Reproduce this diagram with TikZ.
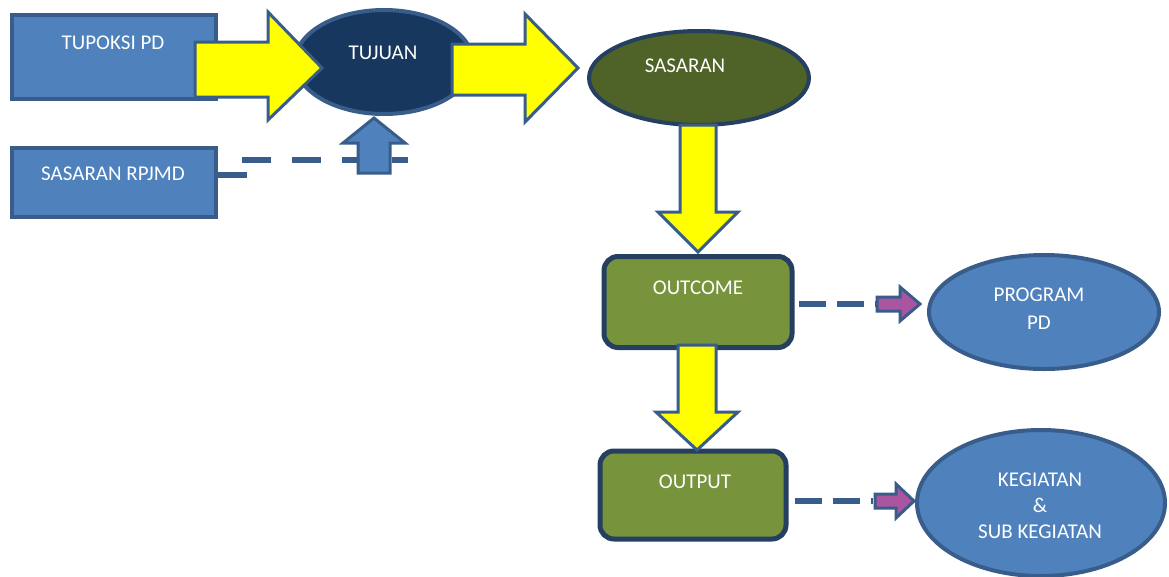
\documentclass[tikz,border=0pt]{standalone}
\usepackage{fontspec}
\setmainfont{Carlito}
\usetikzlibrary{shapes.geometric}
\definecolor{bfill}{HTML}{4F81BD}
\definecolor{bline}{HTML}{385D8A}
\definecolor{navy}{HTML}{17375E}
\definecolor{olived}{HTML}{4F6228}
\definecolor{olive}{HTML}{77933C}
\definecolor{dline}{HTML}{243F60}
\definecolor{purp}{HTML}{A9559F}
\definecolor{yel}{HTML}{FFFF00}
\tikzset{
  txt/.style={text=white,font=\fontsize{21}{28}\selectfont,inner sep=0pt,align=center},
  bluebox/.style={draw=bline,fill=bfill,line width=4pt,minimum width=204pt,inner sep=0pt},
  greenbox/.style={draw=dline,fill=olive,line width=5pt,rounded corners=14pt,inner sep=0pt},
  oval/.style={ellipse,line width=4pt,inner sep=0pt},
  blockarrow/.style={draw=bline,fill=yel,line width=3pt,line join=miter},
  smallarrow/.style={draw=bline,fill=purp,line width=3pt,line join=miter},
  dashline/.style={draw=bline,line width=6pt,dash pattern=on 27pt off 11pt},
}
\begin{document}
\begin{tikzpicture}[x=1pt,y=-1pt]
\useasboundingbox (0,0) rectangle (1169,576);
% boxes
\node[bluebox,minimum height=84pt] (tupoksi) at (114,57) {};
\node[bluebox,minimum height=69pt] (rpjmd) at (114,182.5) {};
\node[oval,draw=bline,fill=navy,minimum width=178pt,minimum height=104pt] (tujuan) at (384,62) {};
\node[oval,draw=dline,fill=olived,minimum width=220pt,minimum height=94pt] (sasaran) at (699,78) {};
\node[greenbox,minimum width=188pt,minimum height=91pt] (outcome) at (698,302) {};
\node[greenbox,minimum width=186pt,minimum height=88pt] (output) at (693,495) {};
\node[oval,draw=bline,fill=bfill,minimum width=230pt,minimum height=114pt] (program) at (1044,312) {};
\node[oval,draw=bline,fill=bfill,minimum width=248pt,minimum height=146pt] (kegiatan) at (1041,503) {};
% texts
\node[txt,anchor=base] (t1) at (113,49) {TUPOKSI PD};
\node[txt,anchor=base] (t2) at (113,180) {SASARAN RPJMD};
\node[txt,anchor=base] (t3) at (383,59) {TUJUAN};
\node[txt,anchor=base] (t4) at (685,72) {SASARAN};
\node[txt,anchor=base] (t5) at (698,294) {OUTCOME};
\node[txt,anchor=base] (t6) at (695,488) {OUTPUT};
\node[txt] (t7) at (1039,309) {PROGRAM\\PD};
\node[txt,font=\fontsize{21}{26}\selectfont] (t8) at (1040,505.5) {KEGIATAN\\\&\\SUB KEGIATAN};
% yellow block arrows
\draw[blockarrow] (195,42) -- (268,42) -- (268,12) -- (322,68) -- (268,120) -- (268,97) -- (195,97) -- cycle;
\draw[blockarrow] (452,44) -- (525,44) -- (525,14) -- (578,68) -- (525,122) -- (525,95) -- (452,95) -- cycle;
\draw[blockarrow] (680,125) -- (716,125) -- (716,212) -- (738,212) -- (698,252) -- (658,212) -- (680,212) -- cycle;
\draw[blockarrow] (678,345) -- (716,345) -- (716,412) -- (738,412) -- (697,450) -- (656,412) -- (678,412) -- cycle;
% dashed connector from SASARAN RPJMD
\coordinate (r1) at (rpjmd.east |- 0,175);
\coordinate (r2) at (247,175);
\coordinate (r3) at (242,160);
\coordinate (r4) at (408,160);
\draw[draw=bline,line width=6pt] (r1) -- (r2);
\draw[draw=bline,line width=6pt,dash pattern=on 29pt off 21pt] (r3) -- (r4);
\draw[draw=bline,fill=bfill,line width=3pt,line join=miter] (358,173) -- (390,173) -- (390,143) -- (405,143) -- (374,118) -- (343,143) -- (358,143) -- cycle;
% dashed connectors to right ellipses
\coordinate (a1) at (875,304);
\coordinate (a2) at (873,501);
\draw[dashline] (outcome.east |- a1) ++(4,0) -- (a1);
\draw[dashline] (output.east |- a2) ++(6,0) -- (a2);
\draw[smallarrow] (877,297) -- (900,297) -- (900,287) -- (920,304) -- (900,321) -- (900,311) -- (877,311) -- cycle;
\draw[smallarrow] (875,494) -- (896,494) -- (896,484) -- (914,501) -- (896,518) -- (896,508) -- (875,508) -- cycle;
\end{tikzpicture}
\end{document}
